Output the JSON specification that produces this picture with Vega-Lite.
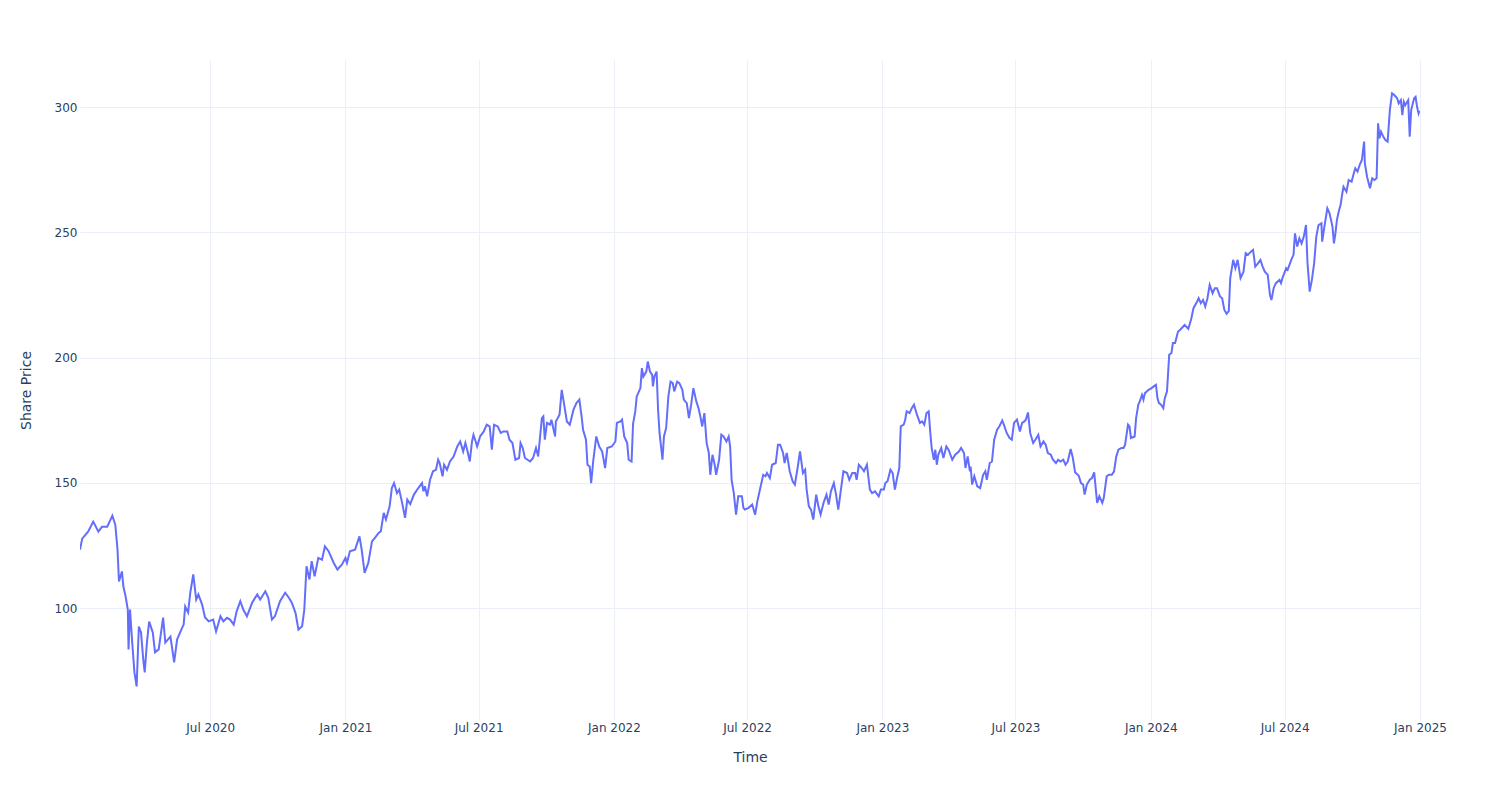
{
"$schema": "https://vega.github.io/schema/vega-lite/v6.json",
"width": 1340, "height": 660,
"autosize": {"type": "none"},
"padding": {"left": 80, "top": 60, "right": 80, "bottom": 80},
"background": "white",
"config": {"view": {"stroke": null}, "font": "DejaVu Sans"},
"data": {"values": [
{"date":"2020-01-06","price":123.3},{"date":"2020-01-09","price":127.7},{"date":"2020-01-17","price":130.5},{"date":"2020-01-24","price":134.5},{"date":"2020-01-31","price":130.5},{"date":"2020-02-05","price":132.5},{"date":"2020-02-12","price":132.5},{"date":"2020-02-19","price":136.9},{"date":"2020-02-23","price":133.3},{"date":"2020-02-26","price":123.3},{"date":"2020-02-28","price":110.6},{"date":"2020-03-03","price":114.6},{"date":"2020-03-05","price":108.6},{"date":"2020-03-08","price":104.6},{"date":"2020-03-11","price":99.4},{"date":"2020-03-12","price":83.5},{"date":"2020-03-14","price":99.4},{"date":"2020-03-17","price":86.2},{"date":"2020-03-20","price":74.3},{"date":"2020-03-23","price":68.7},{"date":"2020-03-26","price":92.6},{"date":"2020-03-29","price":90.2},{"date":"2020-04-01","price":79.5},{"date":"2020-04-03","price":74.3},{"date":"2020-04-06","price":86.2},{"date":"2020-04-09","price":94.6},{"date":"2020-04-14","price":90.2},{"date":"2020-04-17","price":82.3},{"date":"2020-04-22","price":83.5},{"date":"2020-04-28","price":96.2},{"date":"2020-05-01","price":86.2},{"date":"2020-05-08","price":88.6},{"date":"2020-05-13","price":78.3},{"date":"2020-05-17","price":87.4},{"date":"2020-05-21","price":90.2},{"date":"2020-05-26","price":93.5},{"date":"2020-05-28","price":100.6},{"date":"2020-06-01","price":98.2},{"date":"2020-06-04","price":106.2},{"date":"2020-06-08","price":113.4},{"date":"2020-06-12","price":103.4},{"date":"2020-06-15","price":105.4},{"date":"2020-06-20","price":101.4},{"date":"2020-06-24","price":96.2},{"date":"2020-06-29","price":94.7},{"date":"2020-07-05","price":95.4},{"date":"2020-07-09","price":90.7},{"date":"2020-07-15","price":96.7},{"date":"2020-07-19","price":94.7},{"date":"2020-07-24","price":96.1},{"date":"2020-07-28","price":95.4},{"date":"2020-08-02","price":93.4},{"date":"2020-08-06","price":98.7},{"date":"2020-08-11","price":102.7},{"date":"2020-08-15","price":99.4},{"date":"2020-08-20","price":96.7},{"date":"2020-08-27","price":102.1},{"date":"2020-09-03","price":105.4},{"date":"2020-09-07","price":103.4},{"date":"2020-09-14","price":106.7},{"date":"2020-09-18","price":104.1},{"date":"2020-09-23","price":95.4},{"date":"2020-09-27","price":96.7},{"date":"2020-10-04","price":102.7},{"date":"2020-10-11","price":106.1},{"date":"2020-10-16","price":104.1},{"date":"2020-10-20","price":102.1},{"date":"2020-10-25","price":98.1},{"date":"2020-10-29","price":91.4},{"date":"2020-11-03","price":92.7},{"date":"2020-11-06","price":99.4},{"date":"2020-11-09","price":116.7},{"date":"2020-11-13","price":111.4},{"date":"2020-11-16","price":118.7},{"date":"2020-11-20","price":112.7},{"date":"2020-11-25","price":120.0},{"date":"2020-11-30","price":119.3},{"date":"2020-12-04","price":124.6},{"date":"2020-12-09","price":122.7},{"date":"2020-12-16","price":118.0},{"date":"2020-12-21","price":115.4},{"date":"2020-12-27","price":117.3},
{"date":"2021-01-01","price":120.0},{"date":"2021-01-03","price":118.0},{"date":"2021-01-07","price":122.7},{"date":"2021-01-14","price":123.3},{"date":"2021-01-20","price":128.6},{"date":"2021-01-23","price":123.3},{"date":"2021-01-27","price":114.0},{"date":"2021-02-01","price":118.0},{"date":"2021-02-06","price":126.6},{"date":"2021-02-10","price":128.0},{"date":"2021-02-15","price":130.0},{"date":"2021-02-18","price":130.6},{"date":"2021-02-22","price":138.0},{"date":"2021-02-25","price":135.3},{"date":"2021-03-02","price":140.6},{"date":"2021-03-05","price":147.9},{"date":"2021-03-08","price":149.9},{"date":"2021-03-12","price":145.9},{"date":"2021-03-15","price":147.3},{"date":"2021-03-19","price":142.0},{"date":"2021-03-23","price":136.0},{"date":"2021-03-26","price":143.3},{"date":"2021-03-30","price":141.5},{"date":"2021-04-04","price":145.3},{"date":"2021-04-10","price":147.9},{"date":"2021-04-15","price":149.9},{"date":"2021-04-17","price":146.6},{"date":"2021-04-19","price":148.6},{"date":"2021-04-22","price":144.6},{"date":"2021-04-26","price":151.2},{"date":"2021-04-30","price":154.6},{"date":"2021-05-04","price":155.2},{"date":"2021-05-07","price":159.2},{"date":"2021-05-09","price":157.9},{"date":"2021-05-13","price":152.6},{"date":"2021-05-15","price":157.2},{"date":"2021-05-19","price":155.2},{"date":"2021-05-23","price":158.5},{"date":"2021-05-28","price":160.5},{"date":"2021-06-02","price":164.5},{"date":"2021-06-06","price":166.5},{"date":"2021-06-10","price":162.5},{"date":"2021-06-13","price":165.9},{"date":"2021-06-16","price":162.5},{"date":"2021-06-19","price":158.5},{"date":"2021-06-22","price":166.5},{"date":"2021-06-24","price":169.2},{"date":"2021-06-27","price":166.5},{"date":"2021-06-29","price":164.5},{"date":"2021-07-03","price":168.5},{"date":"2021-07-08","price":170.5},{"date":"2021-07-12","price":173.2},{"date":"2021-07-16","price":172.5},{"date":"2021-07-19","price":163.2},{"date":"2021-07-22","price":173.2},{"date":"2021-07-27","price":172.5},{"date":"2021-07-31","price":169.9},{"date":"2021-08-04","price":170.5},{"date":"2021-08-09","price":170.5},{"date":"2021-08-12","price":167.2},{"date":"2021-08-16","price":165.9},{"date":"2021-08-20","price":159.2},{"date":"2021-08-25","price":159.9},{"date":"2021-08-27","price":165.9},{"date":"2021-08-30","price":163.9},{"date":"2021-09-02","price":159.9},{"date":"2021-09-09","price":158.5},{"date":"2021-09-13","price":159.9},{"date":"2021-09-17","price":163.9},{"date":"2021-09-20","price":160.5},{"date":"2021-09-25","price":175.8},{"date":"2021-09-27","price":176.5},{"date":"2021-09-29","price":167.2},{"date":"2021-10-02","price":173.9},{"date":"2021-10-06","price":173.2},{"date":"2021-10-08","price":175.2},{"date":"2021-10-13","price":168.5},{"date":"2021-10-14","price":174.5},{"date":"2021-10-19","price":177.2},{"date":"2021-10-22","price":187.1},{"date":"2021-10-25","price":181.8},{"date":"2021-10-29","price":174.5},{"date":"2021-11-02","price":173.2},{"date":"2021-11-07","price":179.2},{"date":"2021-11-11","price":181.8},{"date":"2021-11-15","price":183.2},{"date":"2021-11-18","price":176.5},{"date":"2021-11-20","price":171.2},{"date":"2021-11-24","price":167.2},{"date":"2021-11-26","price":157.2},{"date":"2021-11-29","price":156.5},{"date":"2021-12-01","price":149.9},{"date":"2021-12-04","price":159.2},{"date":"2021-12-08","price":168.5},{"date":"2021-12-12","price":164.5},{"date":"2021-12-16","price":162.5},{"date":"2021-12-20","price":155.9},{"date":"2021-12-23","price":163.9},{"date":"2021-12-29","price":164.5},
{"date":"2022-01-03","price":166.5},{"date":"2022-01-05","price":173.9},{"date":"2022-01-10","price":174.5},{"date":"2022-01-12","price":175.2},{"date":"2022-01-15","price":168.5},{"date":"2022-01-19","price":165.9},{"date":"2022-01-21","price":159.2},{"date":"2022-01-25","price":158.5},{"date":"2022-01-27","price":173.5},{"date":"2022-01-30","price":178.5},{"date":"2022-02-01","price":184.5},{"date":"2022-02-06","price":187.8},{"date":"2022-02-08","price":195.8},{"date":"2022-02-10","price":192.4},{"date":"2022-02-14","price":194.4},{"date":"2022-02-16","price":198.4},{"date":"2022-02-19","price":194.4},{"date":"2022-02-22","price":193.1},{"date":"2022-02-23","price":188.5},{"date":"2022-02-25","price":192.4},{"date":"2022-02-28","price":194.4},{"date":"2022-03-02","price":179.2},{"date":"2022-03-04","price":169.9},{"date":"2022-03-08","price":159.2},{"date":"2022-03-10","price":168.5},{"date":"2022-03-13","price":171.9},{"date":"2022-03-16","price":184.5},{"date":"2022-03-19","price":190.4},{"date":"2022-03-22","price":189.8},{"date":"2022-03-24","price":186.5},{"date":"2022-03-28","price":190.4},{"date":"2022-03-31","price":189.8},{"date":"2022-04-04","price":187.1},{"date":"2022-04-06","price":183.2},{"date":"2022-04-10","price":181.8},{"date":"2022-04-13","price":175.8},{"date":"2022-04-16","price":181.2},{"date":"2022-04-19","price":187.8},{"date":"2022-04-23","price":182.5},{"date":"2022-04-26","price":179.8},{"date":"2022-04-28","price":177.2},{"date":"2022-05-01","price":172.5},{"date":"2022-05-04","price":177.8},{"date":"2022-05-07","price":165.9},{"date":"2022-05-10","price":161.9},{"date":"2022-05-12","price":153.2},{"date":"2022-05-15","price":161.2},{"date":"2022-05-18","price":157.2},{"date":"2022-05-20","price":153.2},{"date":"2022-05-24","price":159.2},{"date":"2022-05-27","price":169.2},{"date":"2022-05-30","price":168.5},{"date":"2022-06-03","price":166.5},{"date":"2022-06-06","price":168.5},{"date":"2022-06-08","price":164.5},{"date":"2022-06-10","price":151.2},{"date":"2022-06-13","price":145.9},{"date":"2022-06-16","price":137.3},{"date":"2022-06-19","price":144.6},{"date":"2022-06-24","price":144.6},{"date":"2022-06-26","price":140.0},{"date":"2022-06-28","price":139.3},{"date":"2022-07-03","price":140.0},{"date":"2022-07-08","price":141.3},{"date":"2022-07-12","price":137.3},{"date":"2022-07-15","price":142.6},{"date":"2022-07-19","price":147.9},{"date":"2022-07-23","price":153.2},{"date":"2022-07-26","price":152.6},{"date":"2022-07-28","price":153.9},{"date":"2022-08-01","price":151.9},{"date":"2022-08-04","price":157.2},{"date":"2022-08-09","price":157.9},{"date":"2022-08-12","price":165.2},{"date":"2022-08-15","price":165.2},{"date":"2022-08-19","price":161.9},{"date":"2022-08-21","price":157.9},{"date":"2022-08-24","price":161.9},{"date":"2022-08-28","price":154.6},{"date":"2022-09-01","price":150.6},{"date":"2022-09-04","price":149.3},{"date":"2022-09-08","price":156.5},{"date":"2022-09-11","price":162.5},{"date":"2022-09-15","price":153.9},{"date":"2022-09-18","price":155.2},{"date":"2022-09-20","price":147.3},{"date":"2022-09-23","price":140.6},{"date":"2022-09-26","price":139.3},{"date":"2022-09-29","price":135.3},{"date":"2022-10-03","price":145.3},{"date":"2022-10-06","price":140.6},{"date":"2022-10-09","price":137.3},{"date":"2022-10-13","price":142.0},{"date":"2022-10-17","price":145.3},{"date":"2022-10-20","price":141.3},{"date":"2022-10-23","price":146.6},{"date":"2022-10-27","price":149.9},{"date":"2022-10-30","price":145.3},{"date":"2022-11-02","price":139.3},{"date":"2022-11-05","price":145.9},{"date":"2022-11-09","price":154.6},{"date":"2022-11-14","price":153.9},{"date":"2022-11-17","price":151.2},{"date":"2022-11-21","price":153.9},{"date":"2022-11-25","price":153.9},{"date":"2022-11-27","price":151.2},{"date":"2022-11-30","price":157.2},{"date":"2022-12-04","price":155.9},{"date":"2022-12-07","price":154.6},{"date":"2022-12-11","price":157.2},{"date":"2022-12-15","price":147.3},{"date":"2022-12-18","price":145.9},{"date":"2022-12-22","price":146.6},{"date":"2022-12-27","price":144.6},{"date":"2022-12-30","price":147.3},
{"date":"2023-01-03","price":147.3},{"date":"2023-01-05","price":149.9},{"date":"2023-01-08","price":150.6},{"date":"2023-01-12","price":155.2},{"date":"2023-01-15","price":153.9},{"date":"2023-01-18","price":147.3},{"date":"2023-01-21","price":151.9},{"date":"2023-01-24","price":155.9},{"date":"2023-01-26","price":172.5},{"date":"2023-01-30","price":173.2},{"date":"2023-02-01","price":175.2},{"date":"2023-02-03","price":178.5},{"date":"2023-02-07","price":177.8},{"date":"2023-02-10","price":179.8},{"date":"2023-02-13","price":181.2},{"date":"2023-02-17","price":177.2},{"date":"2023-02-21","price":173.9},{"date":"2023-02-24","price":174.5},{"date":"2023-02-27","price":173.2},{"date":"2023-03-02","price":177.8},{"date":"2023-03-05","price":178.5},{"date":"2023-03-07","price":170.5},{"date":"2023-03-09","price":163.9},{"date":"2023-03-12","price":159.2},{"date":"2023-03-14","price":163.2},{"date":"2023-03-16","price":157.2},{"date":"2023-03-18","price":161.2},{"date":"2023-03-22","price":163.9},{"date":"2023-03-25","price":159.9},{"date":"2023-03-29","price":164.5},{"date":"2023-04-01","price":163.2},{"date":"2023-04-06","price":159.2},{"date":"2023-04-10","price":161.2},{"date":"2023-04-15","price":162.5},{"date":"2023-04-18","price":163.9},{"date":"2023-04-22","price":161.9},{"date":"2023-04-24","price":155.9},{"date":"2023-04-27","price":160.5},{"date":"2023-04-30","price":154.6},{"date":"2023-05-01","price":156.5},{"date":"2023-05-03","price":149.3},{"date":"2023-05-06","price":152.6},{"date":"2023-05-10","price":148.6},{"date":"2023-05-14","price":147.9},{"date":"2023-05-18","price":153.2},{"date":"2023-05-21","price":154.6},{"date":"2023-05-23","price":151.2},{"date":"2023-05-27","price":157.9},{"date":"2023-05-30","price":158.5},{"date":"2023-06-02","price":167.2},{"date":"2023-06-06","price":171.2},{"date":"2023-06-09","price":172.5},{"date":"2023-06-13","price":174.9},{"date":"2023-06-16","price":172.5},{"date":"2023-06-19","price":169.9},{"date":"2023-06-23","price":167.9},{"date":"2023-06-26","price":167.2},{"date":"2023-06-29","price":173.9},{"date":"2023-07-03","price":175.2},{"date":"2023-07-07","price":170.5},{"date":"2023-07-10","price":173.9},{"date":"2023-07-13","price":174.5},{"date":"2023-07-15","price":175.2},{"date":"2023-07-18","price":178.1},{"date":"2023-07-21","price":169.9},{"date":"2023-07-25","price":165.9},{"date":"2023-07-28","price":167.2},{"date":"2023-08-01","price":169.2},{"date":"2023-08-04","price":164.5},{"date":"2023-08-08","price":166.5},{"date":"2023-08-11","price":165.2},{"date":"2023-08-14","price":161.9},{"date":"2023-08-18","price":161.2},{"date":"2023-08-21","price":159.2},{"date":"2023-08-25","price":157.9},{"date":"2023-08-28","price":159.2},{"date":"2023-08-31","price":158.5},{"date":"2023-09-04","price":159.2},{"date":"2023-09-07","price":157.2},{"date":"2023-09-10","price":158.5},{"date":"2023-09-14","price":163.5},{"date":"2023-09-17","price":159.9},{"date":"2023-09-20","price":154.2},{"date":"2023-09-25","price":152.8},{"date":"2023-09-28","price":149.9},{"date":"2023-10-01","price":149.3},{"date":"2023-10-03","price":145.3},{"date":"2023-10-06","price":149.3},{"date":"2023-10-10","price":151.2},{"date":"2023-10-13","price":151.9},{"date":"2023-10-16","price":154.2},{"date":"2023-10-20","price":142.0},{"date":"2023-10-23","price":144.6},{"date":"2023-10-27","price":142.0},{"date":"2023-10-29","price":143.9},{"date":"2023-11-02","price":152.6},{"date":"2023-11-05","price":153.2},{"date":"2023-11-09","price":153.2},{"date":"2023-11-12","price":154.6},{"date":"2023-11-15","price":160.5},{"date":"2023-11-18","price":163.2},{"date":"2023-11-22","price":163.9},{"date":"2023-11-25","price":163.9},{"date":"2023-11-27","price":165.2},{"date":"2023-12-01","price":173.2},{"date":"2023-12-03","price":172.5},{"date":"2023-12-05","price":167.9},{"date":"2023-12-10","price":168.5},{"date":"2023-12-12","price":175.8},{"date":"2023-12-15","price":181.2},{"date":"2023-12-17","price":182.5},{"date":"2023-12-20","price":185.1},{"date":"2023-12-22","price":183.2},{"date":"2023-12-24","price":185.8},{"date":"2023-12-29","price":187.1},
{"date":"2024-01-02","price":187.8},{"date":"2024-01-05","price":188.5},{"date":"2024-01-08","price":189.1},{"date":"2024-01-10","price":183.8},{"date":"2024-01-12","price":181.8},{"date":"2024-01-15","price":181.2},{"date":"2024-01-18","price":179.8},{"date":"2024-01-20","price":183.8},{"date":"2024-01-23","price":186.5},{"date":"2024-01-26","price":201.1},{"date":"2024-01-29","price":201.8},{"date":"2024-01-31","price":205.8},{"date":"2024-02-03","price":205.8},{"date":"2024-02-07","price":210.4},{"date":"2024-02-10","price":211.1},{"date":"2024-02-16","price":213.0},{"date":"2024-02-21","price":211.5},{"date":"2024-02-25","price":215.5},{"date":"2024-02-28","price":219.7},{"date":"2024-03-04","price":222.4},{"date":"2024-03-06","price":223.7},{"date":"2024-03-09","price":221.7},{"date":"2024-03-12","price":223.0},{"date":"2024-03-15","price":220.4},{"date":"2024-03-18","price":223.7},{"date":"2024-03-21","price":229.0},{"date":"2024-03-25","price":225.7},{"date":"2024-03-28","price":227.7},{"date":"2024-03-31","price":227.7},{"date":"2024-04-04","price":224.4},{"date":"2024-04-07","price":223.7},{"date":"2024-04-10","price":219.0},{"date":"2024-04-13","price":217.5},{"date":"2024-04-16","price":218.5},{"date":"2024-04-18","price":231.7},{"date":"2024-04-22","price":239.0},{"date":"2024-04-25","price":235.7},{"date":"2024-04-28","price":239.0},{"date":"2024-05-02","price":231.7},{"date":"2024-05-06","price":234.3},{"date":"2024-05-09","price":241.7},{"date":"2024-05-12","price":241.0},{"date":"2024-05-16","price":242.3},{"date":"2024-05-19","price":243.0},{"date":"2024-05-22","price":236.3},{"date":"2024-05-26","price":237.7},{"date":"2024-05-29","price":239.0},{"date":"2024-06-01","price":236.3},{"date":"2024-06-04","price":234.3},{"date":"2024-06-08","price":233.0},{"date":"2024-06-11","price":225.0},{"date":"2024-06-13","price":223.0},{"date":"2024-06-16","price":227.7},{"date":"2024-06-19","price":229.7},{"date":"2024-06-24","price":231.0},{"date":"2024-06-26","price":229.7},{"date":"2024-06-28","price":231.7},{"date":"2024-07-03","price":235.7},{"date":"2024-07-05","price":235.0},{"date":"2024-07-10","price":239.0},{"date":"2024-07-13","price":241.0},{"date":"2024-07-15","price":249.6},{"date":"2024-07-18","price":244.3},{"date":"2024-07-21","price":247.6},{"date":"2024-07-24","price":245.6},{"date":"2024-07-27","price":248.3},{"date":"2024-07-30","price":252.9},{"date":"2024-08-01","price":238.0},{"date":"2024-08-04","price":226.3},{"date":"2024-08-07","price":231.0},{"date":"2024-08-10","price":237.5},{"date":"2024-08-13","price":248.3},{"date":"2024-08-16","price":252.9},{"date":"2024-08-20","price":253.6},{"date":"2024-08-21","price":246.3},{"date":"2024-08-24","price":252.3},{"date":"2024-08-28","price":259.6},{"date":"2024-08-31","price":257.6},{"date":"2024-09-04","price":252.3},{"date":"2024-09-06","price":245.6},{"date":"2024-09-08","price":249.6},{"date":"2024-09-10","price":254.9},{"date":"2024-09-13","price":258.9},{"date":"2024-09-15","price":260.9},{"date":"2024-09-17","price":264.9},{"date":"2024-09-19","price":268.2},{"date":"2024-09-23","price":266.2},{"date":"2024-09-26","price":270.9},{"date":"2024-09-30","price":270.2},{"date":"2024-10-03","price":273.6},{"date":"2024-10-05","price":275.6},{"date":"2024-10-08","price":274.3},{"date":"2024-10-11","price":276.9},{"date":"2024-10-14","price":278.9},{"date":"2024-10-17","price":286.2},{"date":"2024-10-18","price":277.6},{"date":"2024-10-21","price":272.2},{"date":"2024-10-25","price":267.6},{"date":"2024-10-28","price":271.6},{"date":"2024-10-31","price":270.9},{"date":"2024-11-03","price":271.6},{"date":"2024-11-05","price":293.5},{"date":"2024-11-07","price":287.5},{"date":"2024-11-09","price":290.2},{"date":"2024-11-12","price":288.2},{"date":"2024-11-15","price":286.8},{"date":"2024-11-18","price":286.2},{"date":"2024-11-21","price":298.8},{"date":"2024-11-24","price":305.5},{"date":"2024-11-27","price":304.8},{"date":"2024-12-01","price":303.5},{"date":"2024-12-03","price":301.5},{"date":"2024-12-06","price":302.8},{"date":"2024-12-08","price":296.8},{"date":"2024-12-10","price":302.1},{"date":"2024-12-12","price":300.8},{"date":"2024-12-16","price":302.8},{"date":"2024-12-18","price":288.2},{"date":"2024-12-20","price":298.8},{"date":"2024-12-24","price":303.5},{"date":"2024-12-26","price":304.1},{"date":"2024-12-28","price":300.1},{"date":"2024-12-30","price":297.5},{"date":"2024-12-31","price":298.5}
]},
"mark": {"type": "line", "color": "#636efa", "strokeWidth": 2, "clip": true},
"encoding": {
  "x": {"field": "date", "type": "temporal",
    "scale": {"type": "utc", "domain": [{"year": 2020, "month": 1, "date": 6, "utc": true}, {"year": 2025, "month": 1, "date": 1, "utc": true}]},
    "axis": {"title": "Time",
      "values": [{"year":2020,"month":7,"date":1,"utc":true},{"year":2021,"month":1,"date":1,"utc":true},{"year":2021,"month":7,"date":1,"utc":true},{"year":2022,"month":1,"date":1,"utc":true},{"year":2022,"month":7,"date":1,"utc":true},{"year":2023,"month":1,"date":1,"utc":true},{"year":2023,"month":7,"date":1,"utc":true},{"year":2024,"month":1,"date":1,"utc":true},{"year":2024,"month":7,"date":1,"utc":true},{"year":2025,"month":1,"date":1,"utc":true}],
      "labelExpr": "utcFormat(datum.value, '%b %Y')",
      "grid": true, "gridColor": "#EBF0F8", "gridWidth": 1, "domain": false, "ticks": false,
      "labelFlush": false, "labelOverlap": false, "labelPadding": 2,
      "labelFontSize": 12, "labelColor": "#2a3f5f", "labelFont": "DejaVu Sans",
      "titleFontSize": 14, "titleColor": "#2a3f5f", "titleFont": "DejaVu Sans", "titleFontWeight": "normal", "titlePadding": 17}},
  "y": {"field": "price", "type": "quantitative",
    "scale": {"domain": [55.3, 318.8], "nice": false, "zero": false},
    "axis": {"title": "Share Price", "values": [100, 150, 200, 250, 300],
      "grid": true, "gridColor": "#EBF0F8", "gridWidth": 1, "domain": false, "ticks": false,
      "labelPadding": 3, "labelFontSize": 12, "labelColor": "#2a3f5f", "labelFont": "DejaVu Sans",
      "titleFontSize": 14, "titleColor": "#2a3f5f", "titleFont": "DejaVu Sans", "titleFontWeight": "normal", "titlePadding": 21}}
}
}
